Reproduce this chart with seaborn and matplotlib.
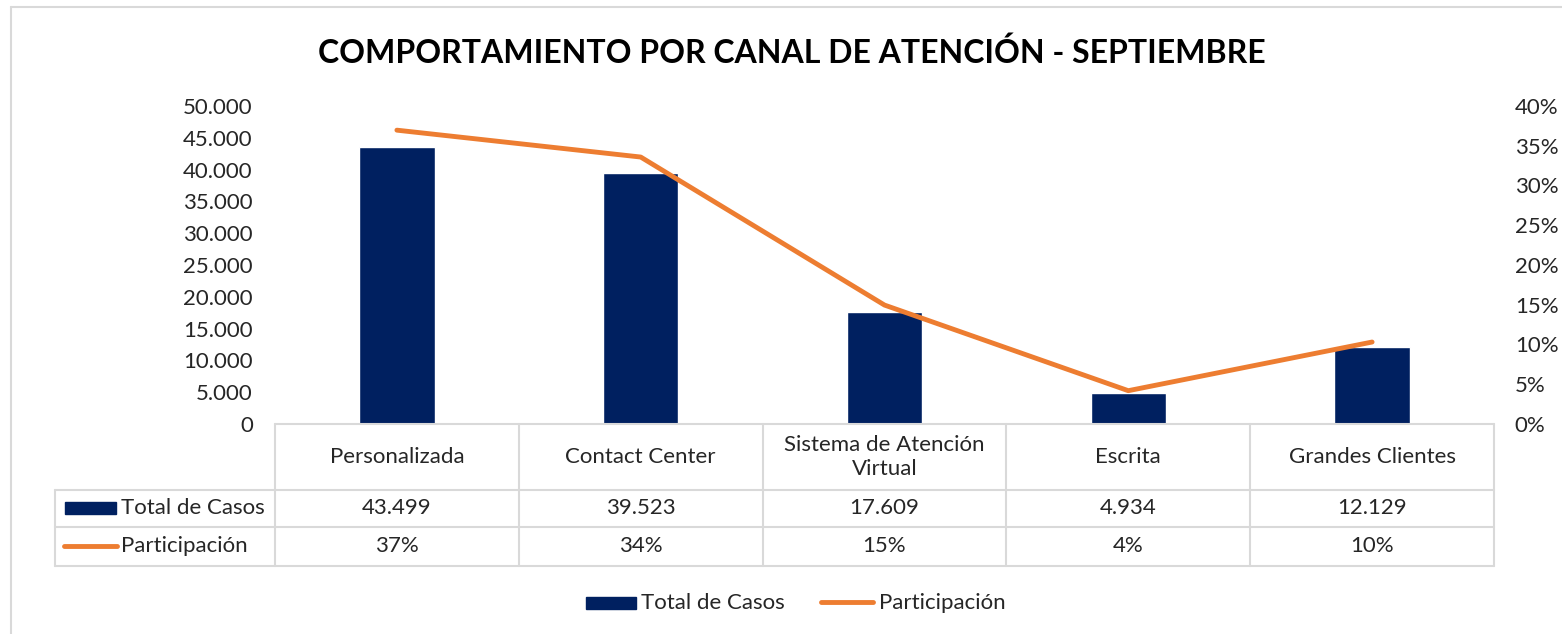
import numpy as np
import pandas as pd
import seaborn as sns
import matplotlib.pyplot as plt
from matplotlib.lines import Line2D
from matplotlib.patches import Rectangle
from matplotlib.ticker import FuncFormatter

# data
canales = ["Personalizada", "Contact Center", "Sistema de Atención\nVirtual", "Escrita", "Grandes Clientes"]
total_casos = [43499, 39523, 17609, 4934, 12129]
participacion = [0.3696, 0.3358, 0.1496, 0.0419, 0.1031]
part_labels = ["37%", "34%", "15%", "4%", "10%"]

navy = "#002060"
orange = "#ED7D31"
grid_col = "#D9D9D9"
fs = 16

sns.set_theme(style="white")
plt.rcParams['font.family'] = ['Lato', 'DejaVu Sans']

W, H = 1562, 634
fig = plt.figure(figsize=(W / 100, H / 100), dpi=100)

def fx(px):
    return px / W

def fy(py):
    return 1 - py / H

# plot area
x0, x1, ytop, ybot = 275, 1494, 106, 424
ax = fig.add_axes([fx(x0), fy(ybot), fx(x1) - fx(x0), fy(ytop) - fy(ybot)])

df = pd.DataFrame({"Canal": range(len(canales)), "Total": total_casos, "Part": participacion})
sns.barplot(data=df, x="Canal", y="Total", color=navy, width=0.31, ax=ax, saturation=1)
ax.set_xlim(-0.5, len(canales) - 0.5)
ax.set_ylim(0, 50000)
ax.set_yticks(np.arange(0, 50001, 5000))
ax.yaxis.set_major_formatter(FuncFormatter(lambda v, p: f"{int(v):,}".replace(",", ".")))
ax.set_xticks([])
ax.set_xlabel("")
ax.set_ylabel("")
ax.tick_params(axis="y", length=0, labelsize=fs, pad=16)
for s in ax.spines.values():
    s.set_visible(False)

ax2 = ax.twinx()
sns.lineplot(data=df, x="Canal", y="Part", color=orange, linewidth=3.5, ax=ax2)
ax2.set_ylim(0, 0.4)
ax2.set_yticks(np.arange(0, 0.401, 0.05))
ax2.yaxis.set_major_formatter(FuncFormatter(lambda v, p: f"{round(v * 100)}%"))
ax2.tick_params(axis="y", length=0, labelsize=fs, pad=15)
ax2.set_ylabel("")
for s in ax2.spines.values():
    s.set_visible(False)

# title
fig.text(fx(792), fy(53), "COMPORTAMIENTO POR CANAL DE ATENCIÓN - SEPTIEMBRE",
         ha="center", va="center", fontsize=23, fontweight="bold", color="black")

# data table
cols = np.linspace(x0, x1, len(canales) + 1)
rows = [424, 490, 527, 566]
lw = 1.5

def hline(xa, xb, y):
    fig.add_artist(Line2D([fx(xa), fx(xb)], [fy(y), fy(y)], color=grid_col, lw=lw))

def vline(x, ya, yb):
    fig.add_artist(Line2D([fx(x), fx(x)], [fy(ya), fy(yb)], color=grid_col, lw=lw))

hline(x0, x1, rows[0])
for y in rows[1:]:
    hline(55, x1, y)
for c in cols:
    vline(c, rows[0], rows[3])
vline(55, rows[1], rows[3])

for i, name in enumerate(canales):
    cx = (cols[i] + cols[i + 1]) / 2
    fig.text(fx(cx), fy((rows[0] + rows[1]) / 2), name, ha="center", va="center",
             fontsize=fs, linespacing=1.25)
    fig.text(fx(cx), fy((rows[1] + rows[2]) / 2), f"{total_casos[i]:,}".replace(",", "."),
             ha="center", va="center", fontsize=fs)
    fig.text(fx(cx), fy((rows[2] + rows[3]) / 2), part_labels[i],
             ha="center", va="center", fontsize=fs)

# row legend keys
fig.add_artist(Rectangle((fx(65), fy(514)), fx(116) - fx(65), fy(502) - fy(514),
                         color=navy, transform=fig.transFigure))
fig.text(fx(121), fy(508), "Total de Casos", ha="left", va="center", fontsize=fs)
fig.add_artist(Line2D([fx(64), fx(117)], [fy(546), fy(546)], color=orange, lw=3.5,
                      solid_capstyle="round"))
fig.text(fx(121), fy(546), "Participación", ha="left", va="center", fontsize=fs)

# bottom legend
fig.add_artist(Rectangle((fx(586), fy(609)), fx(636) - fx(586), fy(597) - fy(609),
                         color=navy, transform=fig.transFigure))
fig.text(fx(641), fy(603), "Total de Casos", ha="left", va="center", fontsize=fs)
fig.add_artist(Line2D([fx(821), fx(873)], [fy(602), fy(602)], color=orange, lw=3.5,
                      solid_capstyle="round"))
fig.text(fx(879), fy(603), "Participación", ha="left", va="center", fontsize=fs)

# chart border (top and left edges only visible)
fig.add_artist(Line2D([fx(11), 1], [fy(7), fy(7)], color=grid_col, lw=1.5))
fig.add_artist(Line2D([fx(11), fx(11)], [fy(7), 0], color=grid_col, lw=1.5))

fig.savefig("out.png", dpi=100, facecolor="white")
